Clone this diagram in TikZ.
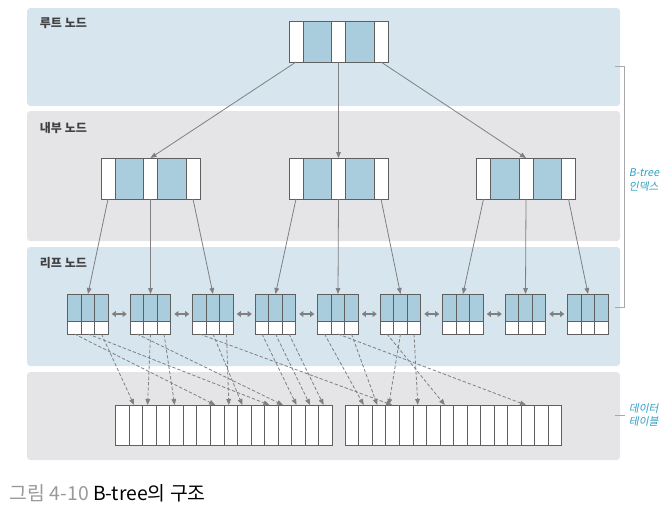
\documentclass[tikz,border=0pt]{standalone}
\usepackage{fontspec}
\setmainfont{Noto Sans CJK KR}
\newfontfamily\slantfont[FakeSlant=0.2]{Noto Sans CJK KR}
\usetikzlibrary{arrows.meta}

\definecolor{panelblue}{HTML}{D7E5EE}
\definecolor{panelgray}{HTML}{E5E5E7}
\definecolor{keyblue}{HTML}{A9CDDD}
\definecolor{cellline}{HTML}{5F5F5F}
\definecolor{arrowgray}{HTML}{808080}
\definecolor{bracketgray}{HTML}{A8A8A8}
\definecolor{labelteal}{HTML}{2E9FC4}
\definecolor{captiongray}{HTML}{999999}

\tikzset{every picture/.style={line width=0.75pt},
	panelbox/.style={draw=none, rounded corners=2.5pt},
	ptrcell/.style={draw=cellline, fill=white, inner sep=0pt, outer sep=0pt, minimum width=10.5pt, minimum height=30.75pt},
	keycell/.style={ptrcell, fill=keyblue, minimum width=21.375pt},
	leafkey/.style={draw=cellline, fill=keyblue, inner sep=0pt, outer sep=0pt, minimum width=10.125pt, minimum height=20.25pt},
	leafptr/.style={leafkey, fill=white, minimum height=9.75pt},
	leafbox/.style={inner sep=0pt, outer sep=0pt, minimum width=30.375pt, minimum height=30pt},
	datacell/.style={draw=cellline, fill=white, inner sep=0pt, outer sep=0pt, minimum width=10.15pt, minimum height=30pt},
	treeptr/.style={draw=arrowgray, line width=0.6pt, -{Triangle[length=4.5pt,width=3.5pt]}},
	siblink/.style={draw=arrowgray, line width=1.2pt, {Triangle[length=3.2pt,width=4.5pt]}-{Triangle[length=3.2pt,width=4.5pt]}, shorten <=2.6pt, shorten >=2.6pt},
	rowptr/.style={draw=arrowgray, line width=0.6pt, dash pattern=on 2.5pt off 1.5pt, -{Triangle[length=4.5pt,width=3.5pt]}},
	panellabel/.style={anchor=west, font=\bfseries\fontsize{9}{10}\selectfont, text=black!75},
	sidelabel/.style={anchor=west, align=left, font=\slantfont\fontsize{8}{10}\selectfont, text=labelteal}
}

\begin{document}
\begin{tikzpicture}[x=0.75pt,y=0.75pt,yscale=-1,xscale=1]
	\useasboundingbox (0,0) rectangle (667,512);

	%Shape: Panels
	\fill[panelblue, panelbox] (27,8) rectangle (620,106);
	\fill[panelgray, panelbox] (27,111) rectangle (620,241);
	\fill[panelblue, panelbox] (27,247) rectangle (620,366);
	\fill[panelgray, panelbox] (27,372) rectangle (620,460);

	% Text Node
	\node[panellabel] (lblroot) at (35,23) {루트 노드};
	% Text Node
	\node[panellabel] (lblinner) at (35,128) {내부 노드};
	% Text Node
	\node[panellabel] (lblleaf) at (35,263) {리프 노드};

	%Shape: Root and internal nodes
	\foreach \nm/\cx/\cy in {r/338.5/41.5, a/150.5/178.5, b/338.5/178.5, c/526/178.5}{
		\node[ptrcell] (\nm1) at (\cx-42.5,\cy) {};
		\node[keycell] (\nm2) at (\cx-21.25,\cy) {};
		\node[ptrcell] (\nm3) at (\cx,\cy) {};
		\node[keycell] (\nm4) at (\cx+21.25,\cy) {};
		\node[ptrcell] (\nm5) at (\cx+42.5,\cy) {};
	}

	%Shape: Leaf nodes
	\foreach \i in {1,...,9}{
		\pgfmathsetmacro\cx{25.5+62.5*\i}
		\node[leafbox] (l\i) at (\cx,314) {};
		\node[leafkey] (l\i-k1) at (\cx-13.5,307.5) {};
		\node[leafkey] (l\i-k2) at (\cx,307.5) {};
		\node[leafkey] (l\i-k3) at (\cx+13.5,307.5) {};
		\node[leafptr] (l\i-p1) at (\cx-13.5,327.5) {};
		\node[leafptr] (l\i-p2) at (\cx,327.5) {};
		\node[leafptr] (l\i-p3) at (\cx+13.5,327.5) {};
	}

	%Shape: Data table
	\foreach \k in {0,...,15}
		\node[datacell] (d\k) at (122.5+13.54*\k,425) {};
	\foreach \k in {16,...,31}
		\node[datacell] (d\k) at (352.2+13.52*\k-216.32,425) {};

	%Straight Lines: root to internal
	\draw[treeptr] (r1.south) -- (a3.north);
	\draw[treeptr] (r3.south) -- (b3.north);
	\draw[treeptr] (r5.south) -- (c3.north);

	%Straight Lines: internal to leaf
	\foreach \src/\dst in {a1/l1, a3/l2, a5/l3, b1/l4, b3/l5, b5/l6, c1/l7, c3/l8, c5/l9}
		\draw[treeptr] (\src.south) -- (\dst.north);

	%Straight Lines: leaf siblings
	\foreach \i [evaluate=\i as \j using int(\i+1)] in {1,...,8}
		\draw[siblink] (l\i.east) -- (l\j.west);

	%Dashed Lines: leaf to rows
	\foreach \src/\dst in {l1-p1/d7, l1-p2/d11, l1-p3/d1, l2-p1/d12, l2-p2/d2, l2-p3/d4, l3-p2/d9, l3-p3/d8, l4-p1/d13, l4-p2/d14, l4-p3/d15, l5-p1/d17, l5-p2/d29, l5-p3/d18, l6-p1/d23, l6-p3/d21}
		\draw[rowptr] (\src.south) -- ([xshift=-1.5pt]\dst.north);
	\draw[rowptr] (l3-p1.south) -- ([xshift=-0.5pt]d19.north);
	\draw[rowptr] (l6-p2.south) -- ([xshift=-3pt]d19.north);

	%Straight Lines: brackets
	\draw[bracketgray, line width=0.6pt] (615,66) -- (624.5,66) -- (624.5,307) -- (615,307);
	\draw[bracketgray, line width=0.6pt] (615,415) -- (624.5,415);

	% Text Node
	\node[sidelabel] (lblindex) at (624,180) {B-tree\\인덱스};
	% Text Node
	\node[sidelabel] (lbltable) at (624,415) {데이터\\테이블};
	% Text Node
	\node[anchor=west, font=\fontsize{14.5}{16}\selectfont] (caption) at (5,493) {\textcolor{captiongray}{그림 4-10} B-tree의 구조};

\end{tikzpicture}
\end{document}
